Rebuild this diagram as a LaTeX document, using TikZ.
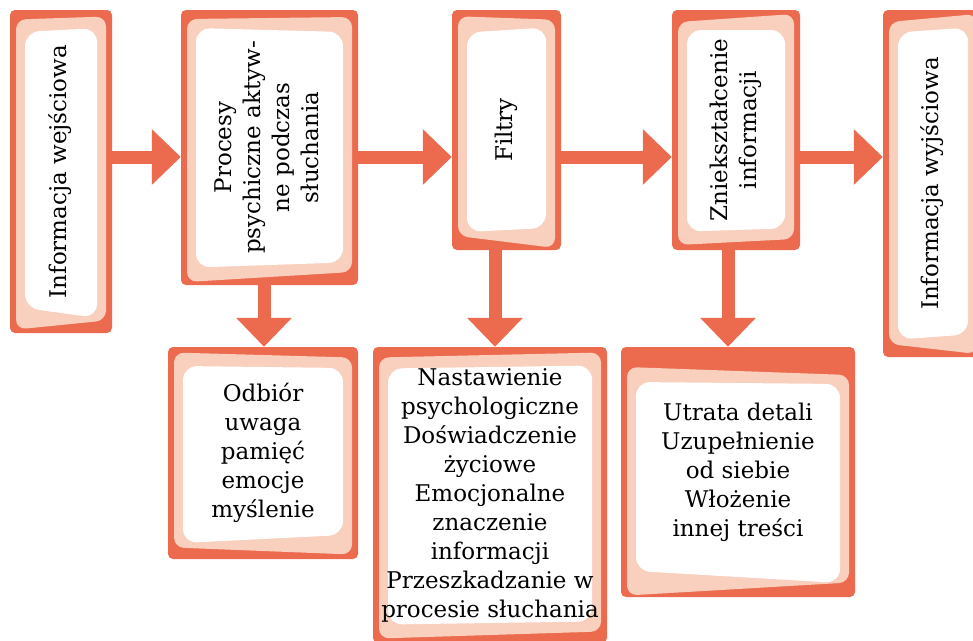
\documentclass[tikz,border=0pt]{standalone}
\usepackage{fontspec}
\setmainfont{DejaVu Serif}
\usepackage{graphicx}
\usetikzlibrary{arrows.meta}

\definecolor{coral}{HTML}{EC6B4F}
\definecolor{peach}{HTML}{F9CFBD}

\newcommand{\turn}[1]{\rotatebox{90}{\begin{tabular}{@{}c@{}}#1\end{tabular}}}

\begin{document}
\begin{tikzpicture}[
	x=1pt, y=-1pt,
	inner sep=0pt,
	font=\fontsize{23}{29}\selectfont,
	card drop/.initial=0,
	card/.style n args={4}{
		rectangle,
		rounded corners=5pt,
		fill=coral,
		align=center,
		path picture={
			\fill[peach, rounded corners=10pt]
				([shift={(6,{8+(#1)+\pgfkeysvalueof{/tikz/card drop}})}]path picture bounding box.north west) --
				([shift={(-6,{8-(#1)+\pgfkeysvalueof{/tikz/card drop}})}]path picture bounding box.north east) --
				([shift={(-6,{-8-(#2)})}]path picture bounding box.south east) --
				([shift={(6,{-8+(#2)})}]path picture bounding box.south west) -- cycle;
			\fill[white, rounded corners=14pt]
				([shift={(15,{20+(#3)+\pgfkeysvalueof{/tikz/card drop}})}]path picture bounding box.north west) --
				([shift={(-15,{20-(#3)+\pgfkeysvalueof{/tikz/card drop}})}]path picture bounding box.north east) --
				([shift={(-15,{-20-(#4)})}]path picture bounding box.south east) --
				([shift={(15,{-20+(#4)})}]path picture bounding box.south west) -- cycle;
		}
	},
	flow/.style={
		draw=coral,
		line width=13pt,
		-{Triangle[width=54pt,length=29pt]}
	}
	]

	\useasboundingbox (0,0) rectangle (973,640);
	\clip (0,0) rectangle (973,640);

	\node [card={1.5}{4.5}{2}{-5}, minimum width=102, minimum height=323] (In) at (61,171.5) {\turn{Informacja wejściowa}};
	\node [card={1}{5}{-2}{2.5}, minimum width=177, minimum height=275] (Proc) at (269.5,147.5) {\turn{Procesy\\psychiczne aktyw-\\ne podczas\\słuchania}};
	\node [card={-1.7}{-6}{2.5}{2}, minimum width=109, minimum height=240] (Filt) at (506.5,130) {\turn{Filtry}};
	\node [card={4}{3}{0}{1.5}, minimum width=128, minimum height=240] (Dist) at (736,130) {\turn{Zniekształcenie\\informacji}};
	\node [card={4}{-5}{2.5}{2.5}, minimum width=100, minimum height=347] (Out) at (933,183.5) {\turn{Informacja wyjściowa}};

	\node [card={-2.5}{-3.5}{-1}{4}, minimum width=190, minimum height=212] (Recv) at (263,453) {Odbiór\\uwaga\\pamięć\\emocje\\myślenie};
	\node [card={2.5}{3.5}{1.5}{1.5}, minimum width=234, minimum height=296] (Bias) at (490,495) {Nastawienie\\psychologiczne\\Doświadczenie\\życiowe\\Emocjonalne\\znaczenie\\informacji\\Przeszkadzanie w\\procesie słuchania};
	\node [card={-4}{6.5}{-1}{-6}, card drop=16, minimum width=234, minimum height=250] (Loss) at (738,472) {Utrata detali\\Uzupełnienie\\od siebie\\Włożenie\\innej treści};

	\coordinate (axis) at (0,157);
	\coordinate (d1) at ([xshift=1pt]Recv.north);
	\coordinate (d2) at ([xshift=5pt]Bias.north);
	\coordinate (d3) at ([xshift=-10pt]Loss.north);

	\draw [flow] (In.east |- axis) -- (Proc.west |- axis);
	\draw [flow] (Proc.east |- axis) -- (Filt.west |- axis);
	\draw [flow] (Filt.east |- axis) -- (Dist.west |- axis);
	\draw [flow] (Dist.east |- axis) -- (Out.west |- axis);

	\draw [flow] (d1 |- Proc.south) -- (d1);
	\draw [flow] (d2 |- Filt.south) -- (d2);
	\draw [flow] (d3 |- Dist.south) -- (d3);

\end{tikzpicture}
\end{document}
